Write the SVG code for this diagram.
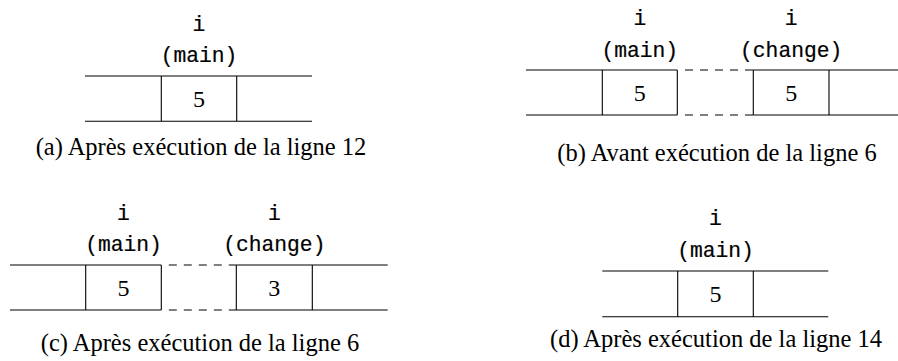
<svg xmlns="http://www.w3.org/2000/svg" width="898" height="361" viewBox="0 0 898 361">
<style>
.ln{stroke:#000;stroke-width:1.1;fill:none}
.dash{stroke:#000;stroke-width:1.1;fill:none;stroke-dasharray:8 7}
.tt{font-family:"Liberation Mono","DejaVu Sans Mono",monospace;font-size:21.3px;text-anchor:middle;fill:#000;stroke:#000;stroke-width:0.2}
.num{font-family:"Liberation Serif","DejaVu Serif",serif;font-size:24px;text-anchor:middle;fill:#000}
.cap{font-family:"Liberation Serif","DejaVu Serif",serif;font-size:24.5px;text-anchor:middle;fill:#000}
</style>
<rect width="898" height="361" fill="#fff"/>

<g id="panel-a">
  <path class="ln" d="M85 76H312M85 121.3H312M161.3 76V121.3M236.7 76V121.3"/>
  <text class="tt" x="199" y="30.5">i</text>
  <text class="tt" x="199" y="62.3">(main)</text>
  <text class="num" x="199" y="106.8">5</text>
  <text class="cap" x="201" y="154.5">(a) Après exécution de la ligne 12</text>
</g>

<g id="panel-b">
  <path class="ln" d="M526 70H677.3M753.3 70H898M526 115H677.3M753.3 115H898M602.3 70V115M677.3 70V115M753.3 70V115M829 70V115"/>
  <text class="tt" x="639.8" y="24.5">i</text>
  <text class="tt" x="639.8" y="56.5">(main)</text>
  <text class="tt" x="791.2" y="24.5">i</text>
  <text class="tt" x="791.2" y="56.5">(change)</text>
  <text class="num" x="639.8" y="100.6">5</text>
  <text class="num" x="791.2" y="100.6">5</text>
  <text class="cap" x="717" y="160.5">(b) Avant exécution de la ligne 6</text>
</g>

<g id="panel-c">
  <path class="ln" d="M10 265H161.3M236.3 265H387.7M10 310H161.3M236.3 310H387.7M85.7 265V310M161.3 265V310M236.3 265V310M312.3 265V310"/>
  <text class="tt" x="123.5" y="219.5">i</text>
  <text class="tt" x="123.5" y="251.2">(main)</text>
  <text class="tt" x="274.3" y="219.5">i</text>
  <text class="tt" x="274.3" y="251.2">(change)</text>
  <text class="num" x="123.5" y="295.6">5</text>
  <text class="num" x="274.3" y="295.6">3</text>
  <text class="cap" x="200" y="351">(c) Après exécution de la ligne 6</text>
</g>

<g id="panel-d">
  <path class="ln" d="M602.3 271H828.3M602.3 316.7H828.3M677.7 271V316.7M753.3 271V316.7"/>
  <text class="tt" x="715.5" y="225">i</text>
  <text class="tt" x="715.5" y="257">(main)</text>
  <text class="num" x="715.5" y="301.8">5</text>
  <text class="cap" x="716" y="347">(d) Après exécution de la ligne 14</text>
</g>

<g id="connectors">
  <path class="dash" d="M685 70H753.3M685 115H753.3"/>
  <path class="dash" d="M168.8 265H236.3M168.8 310H236.3"/>
</g>
</svg>
